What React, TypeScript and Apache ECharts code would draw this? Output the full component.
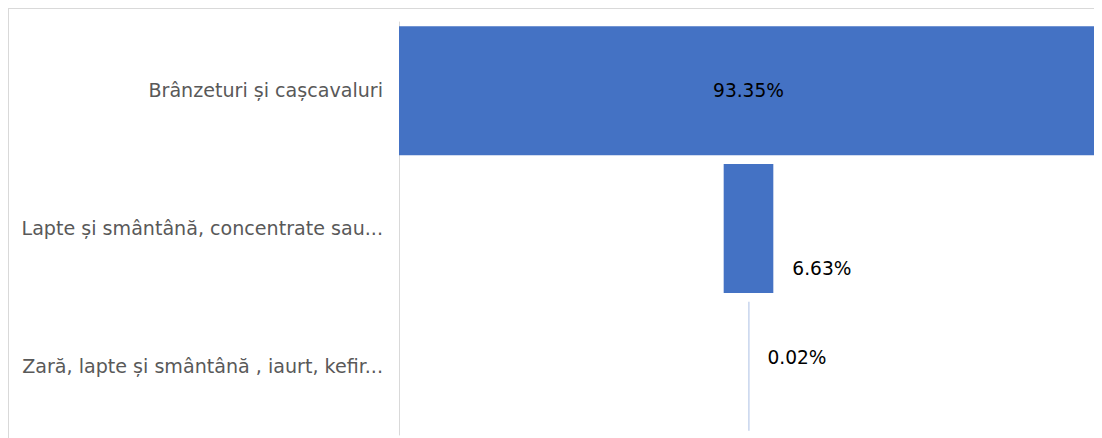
import React, { useEffect, useRef } from "react";
import * as echarts from "echarts";

const categories = [
  "Brânzeturi și cașcavaluri",
  "Lapte și smântână, concentrate sau...",
  "Zară, lapte și smântână , iaurt, kefir...",
];
const shares = [93.35, 6.63, 0.02];

export default function App() {
  const ref = useRef<HTMLDivElement>(null);
  useEffect(() => {
    if (!ref.current) return;
    document.documentElement.style.overflow = "hidden";
    document.body.style.overflow = "hidden";
    const chart = echarts.init(ref.current, null, { renderer: "svg" });
    const maxV = Math.max(...shares);
    const offsets = shares.map((v) => (maxV - v) / 2);
    const plotWidth = 1094 - 391 - 4;
    const labelCfg = [
      { position: "inside", offset: [0, 0] },
      { position: "right", offset: [1, 40] },
      { position: "right", offset: [0, -9] },
    ];
    chart.setOption({
      animation: false,
      graphic: [
        { type: "line", shape: { x1: 0, y1: 0.5, x2: 1094, y2: 0.5 }, style: { stroke: "#d9d9d9", lineWidth: 1 } },
        { type: "line", shape: { x1: 0.5, y1: 0, x2: 0.5, y2: 430 }, style: { stroke: "#d9d9d9", lineWidth: 1 } },
      ],
      grid: { left: 391, right: 4, top: 14, bottom: 3, containLabel: false },
      xAxis: {
        type: "value",
        min: 0,
        max: maxV,
        show: false,
      },
      yAxis: {
        type: "category",
        inverse: true,
        data: categories,
        axisLine: { show: true, lineStyle: { color: "#d9d9d9", width: 1 } },
        axisTick: { show: false },
        axisLabel: {
          color: "#595959",
          fontFamily: "DejaVu Sans",
          fontSize: 19.1,
          margin: 16,
        },
      },
      series: [
        {
          type: "bar",
          stack: "f",
          data: offsets,
          itemStyle: { color: "transparent" },
          silent: true,
          barCategoryGap: "6.3%",
        },
        {
          type: "bar",
          stack: "f",
          barCategoryGap: "6.3%",
          barMinHeight: 1,
          data: shares.map((v, i) => ({
            value: v,
            itemStyle: {
              color: (v / maxV) * plotWidth < 1 ? "rgba(68,114,196,0.45)" : "#4472C4",
            },
            label: {
              show: true,
              position: labelCfg[i].position,
              offset: labelCfg[i].offset,
              distance: 18,
            },
          })),
          itemStyle: { color: "#4472C4" },
          label: {
            show: true,
            color: "#000000",
            fontFamily: "DejaVu Sans",
            fontSize: 18.6,
            formatter: (p: any) => p.value.toFixed(2) + "%",
          },
        },
      ],
    });
    return () => chart.dispose();
  }, []);
  return <div ref={ref} style={{ width: 1094, height: 430 }} />;
}
